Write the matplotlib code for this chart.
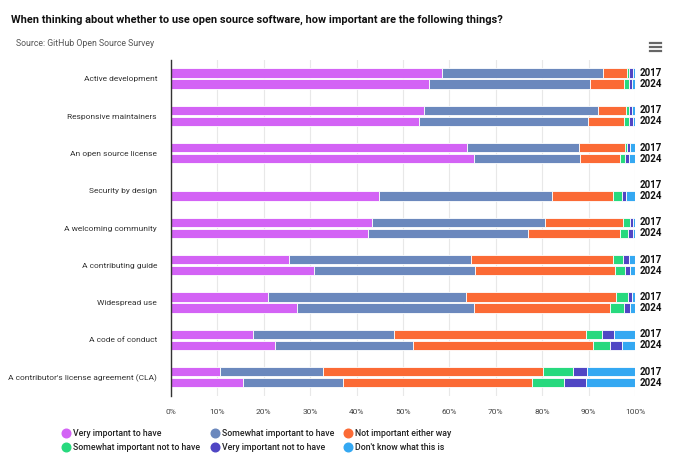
import numpy as np
import matplotlib
matplotlib.use("Agg")
import matplotlib.pyplot as plt
from matplotlib.lines import Line2D

plt.rcParams["font.family"] = ["Roboto", "DejaVu Sans"]

categories = ["Active development", "Responsive maintainers", "An open source license",
              "Security by design", "A welcoming community", "A contributing guide",
              "Widespread use", "A code of conduct", "A contributor's license agreement (CLA)"]
years = ["2017", "2024"]
series_names = ["Very important to have", "Somewhat important to have", "Not important either way",
                "Somewhat important not to have", "Very important not to have", "Don't know what this is"]
colors = ["#d363f5", "#6b88bd", "#fb6a35", "#27d97e", "#5046c4", "#34a8f2"]

# percentages per category, one row per series
vals_2017 = np.array([
    [58.3, 54.6, 63.8, np.nan, 43.4, 25.5, 21.0, 17.7, 10.6],
    [34.7, 37.4, 24.2, np.nan, 37.2, 39.2, 42.6, 30.4, 22.1],
    [5.3, 6.1, 9.8, np.nan, 16.9, 30.5, 32.4, 41.3, 47.5],
    [0.5, 0.5, 0.4, np.nan, 1.4, 2.3, 2.5, 3.4, 6.5],
    [0.7, 0.8, 0.7, np.nan, 0.6, 1.3, 0.9, 2.7, 3.0],
    [0.5, 0.6, 1.1, np.nan, 0.5, 1.2, 0.6, 4.5, 10.3],
])
vals_2024 = np.array([
    [55.7, 53.5, 65.4, 44.8, 42.5, 30.9, 27.1, 22.4, 15.6],
    [34.7, 36.3, 22.7, 37.4, 34.5, 34.6, 38.3, 29.8, 21.5],
    [7.3, 7.9, 8.7, 13.1, 19.8, 30.2, 29.2, 38.8, 40.8],
    [1.0, 0.9, 1.1, 1.8, 1.7, 2.2, 3.1, 3.7, 6.9],
    [0.7, 0.9, 0.9, 0.9, 1.1, 1.1, 1.2, 2.6, 4.7],
    [0.6, 0.5, 1.2, 1.9, 0.5, 1.1, 1.1, 2.7, 10.6],
])

fig = plt.figure(figsize=(6.96, 4.65), dpi=100)
ax = fig.add_axes([171 / 696, 1 - 396 / 465, 464 / 696, 336 / 465])

y = np.arange(len(categories))
offs = {"2017": -0.155, "2024": 0.145}
bh = 0.25
for yr, data in (("2017", vals_2017), ("2024", vals_2024)):
    left = np.zeros(len(categories))
    for k in range(len(series_names)):
        v = np.nan_to_num(data[k])
        ax.barh(y + offs[yr], v, left=left, height=bh, color=colors[k],
                edgecolor="white", linewidth=0.6, zorder=3)
        left += v
    for i in range(len(categories)):
        ax.text(101.1, y[i] + offs[yr], yr, va="center", ha="left", fontsize=7,
                fontweight="bold", color="#111111", clip_on=False)

ax.set_xlim(0, 100)
ax.set_ylim(len(categories) - 0.5, -0.5)
ax.set_xticks(np.arange(0, 101, 10))
ax.set_xticklabels([f"{t}%" for t in range(0, 101, 10)], fontsize=6, color="#444444")
ax.set_yticks(y)
ax.set_yticklabels(categories, fontsize=6, color="#333333")
ax.tick_params(axis="both", length=0, pad=10)
ax.tick_params(axis="x", pad=9)
ax.grid(axis="x", color="#e8e8e8", linewidth=0.8, zorder=0)
for s in ["top", "right", "bottom"]:
    ax.spines[s].set_visible(False)
ax.spines["left"].set_color("#333333")
ax.spines["left"].set_linewidth(1.0)
ax.spines["left"].set_zorder(4)

fig.text(11 / 696, 1 - 20 / 465, "When thinking about whether to use open source software, how important are the following things?",
         fontsize=7.9, fontweight="bold", va="center", ha="left", color="#111111")
fig.text(16 / 696, 1 - 43 / 465, "Source: GitHub Open Source Survey", fontsize=6.3,
         color="#555555", va="center", ha="left")

# menu icon
for dy in (43, 47, 51):
    fig.add_artist(Line2D([650 / 696, 661 / 696], [1 - dy / 465] * 2, color="#666666", linewidth=1.6))

# legend laid out by hand: 3 columns x 2 rows
col_x = [66, 215, 348]
row_y = [433, 447]
for k, name in enumerate(series_names):
    cx = col_x[k % 3]
    cy = row_y[k // 3]
    fig.add_artist(Line2D([cx / 696], [1 - cy / 465], marker="o", markersize=6.2,
                          linestyle="", color=colors[k]))
    fig.text((cx + 7) / 696, 1 - cy / 465, name, fontsize=6.3, fontweight="medium",
             color="#222222", va="center", ha="left")

fig.savefig("out.png", dpi=100, facecolor="white")
